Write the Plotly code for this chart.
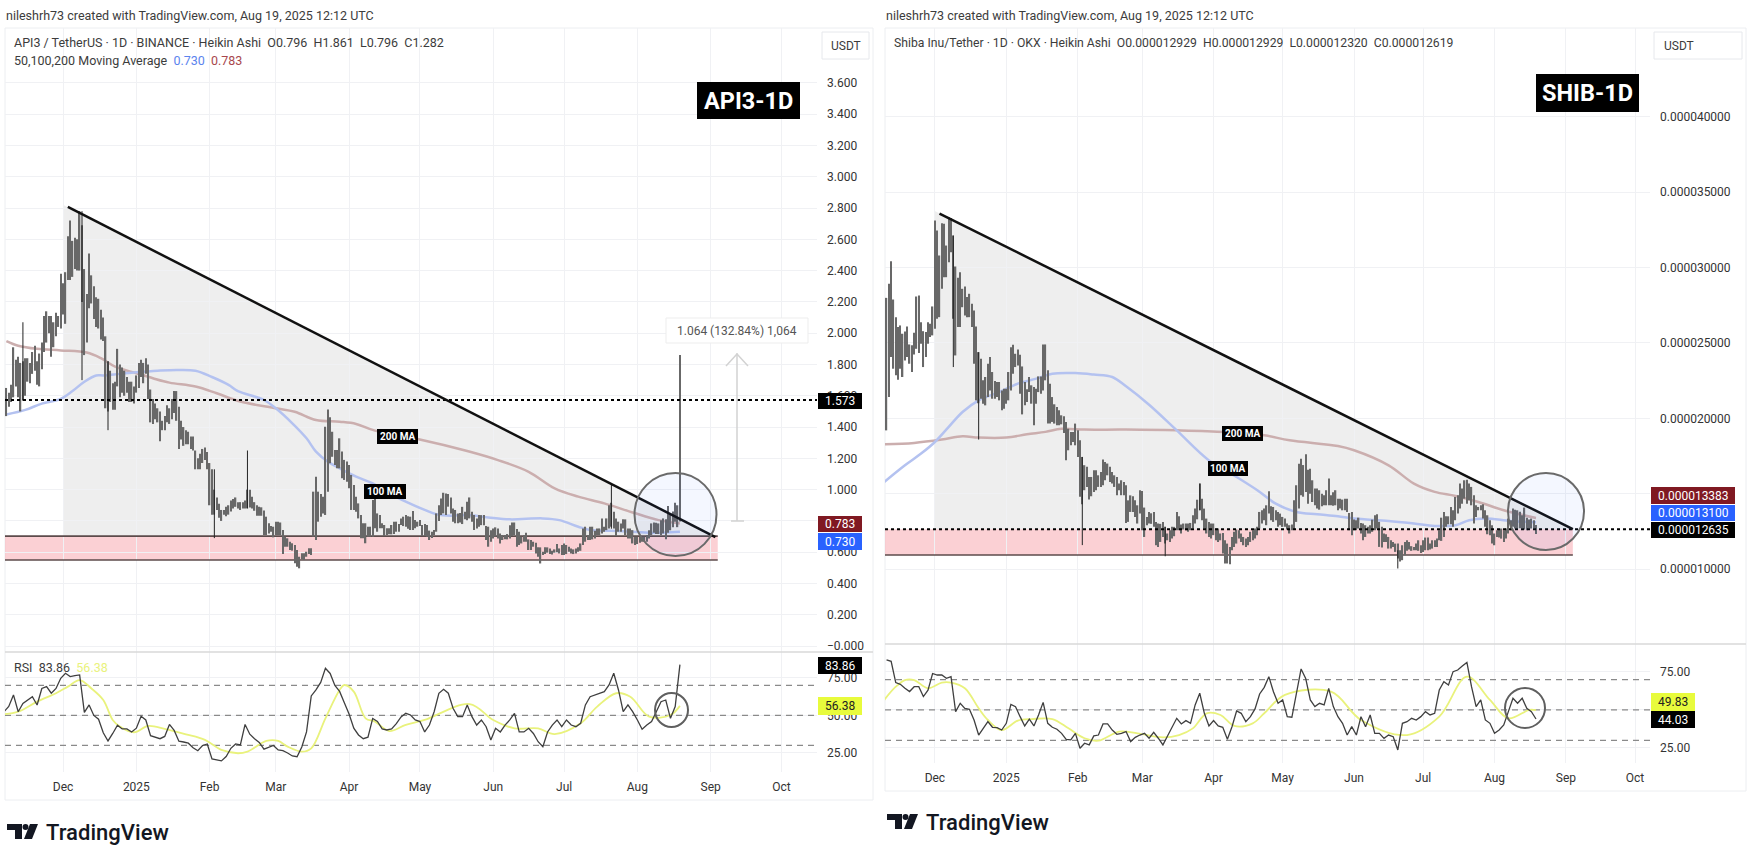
import numpy as np
import pandas as pd
import plotly.graph_objects as go

W, H = 1750, 853

# --- 1. Values ---
month_ticks = ['2024-12-01', '2025-01-01', '2025-02-01', '2025-03-01', '2025-04-01', '2025-05-01',
               '2025-06-01', '2025-07-01', '2025-08-01', '2025-09-01', '2025-10-01']
month_labels = ['Dec', '2025', 'Feb', 'Mar', 'Apr', 'May', 'Jun', 'Jul', 'Aug', 'Sep', 'Oct']
last_day = '2025-08-19'

# API3 daily bars
api3_high = [1.65,1.62,1.67,1.91,1.83,1.85,1.81,1.82,1.84,1.84,
             1.81,1.88,1.92,1.82,1.87,1.94,2.11,2.14,2.11,2.11,
             2.07,2.13,2.11,2.38,2.32,2.39,2.62,2.72,2.59,2.61,
             2.60,2.78,2.69,2.41,2.25,2.51,2.37,2.30,2.23,2.22,
             2.15,2.10,1.98,1.82,1.76,1.68,1.69,1.90,1.80,1.78,
             1.76,1.72,1.69,1.69,1.66,1.73,1.81,1.83,1.81,1.84,
             1.80,1.64,1.58,1.55,1.52,1.50,1.44,1.47,1.54,1.52,
             1.58,1.63,1.63,1.53,1.44,1.40,1.38,1.37,1.34,1.34,
             1.25,1.20,1.23,1.26,1.27,1.24,1.17,1.13,1.00,0.95,
             0.91,0.87,0.87,0.89,0.90,0.93,0.94,0.95,0.92,0.92,
             0.92,0.93,1.00,1.00,0.955,0.92,0.90,0.89,0.887,0.866,
             0.827,0.785,0.767,0.763,0.795,0.795,0.79,0.742,0.70,0.689,
             0.667,0.657,0.646,0.614,0.571,0.593,0.593,0.603,0.625,0.625,
             0.987,1.083,0.987,0.972,0.955,1.402,1.513,1.462,1.37,1.253,
             1.253,1.328,1.243,1.19,1.179,1.157,1.094,1.03,0.955,0.912,
             0.838,0.785,0.785,0.763,0.763,0.934,0.944,0.848,0.838,0.785,
             0.774,0.753,0.753,0.774,0.795,0.795,0.78,0.816,0.827,0.838,
             0.83,0.827,0.863,0.806,0.795,0.806,0.774,0.78,0.774,0.738,
             0.73,0.742,0.848,0.90,0.944,0.98,0.976,0.972,0.95,0.88,
             0.87,0.848,0.85,0.89,
             0.859,0.923,0.95,0.859,0.837,0.816,0.837,0.837,0.837,0.767,
             0.763,0.741,0.752,0.759,0.752,0.72,0.71,0.71,0.716,0.773,
             0.79,0.79,0.748,0.731,0.699,0.71,0.724,0.682,0.678,0.667,
             0.66,0.631,0.631,0.603,0.631,0.631,0.624,0.609,0.618,0.652,
             0.624,0.646,0.656,0.646,0.635,0.624,0.618,0.624,0.631,0.656,
             0.752,0.763,0.71,0.763,0.763,0.737,0.752,0.752,0.816,0.763,
             0.816,0.90,0.916,0.859,0.816,0.795,0.784,0.81,0.81,0.752,
             0.752,0.741,0.699,0.699,0.699,0.699,0.699,0.71,0.741,0.784,
             0.79,0.788,0.784,0.805,0.816,0.81,0.895,0.85,0.86,0.916,0.90,1.861]
api3_low = [1.47,1.53,1.56,1.59,1.66,1.59,1.50,1.57,1.60,1.69,
            1.68,1.74,1.76,1.67,1.66,1.77,1.88,1.94,2.00,1.85,
            1.91,1.98,2.04,2.03,2.12,2.06,2.34,2.34,2.36,2.41,
            2.40,2.40,2.20,1.86,1.94,2.16,2.19,2.09,2.04,2.03,
            1.96,1.95,1.52,1.50,1.56,1.51,1.51,1.66,1.59,1.62,
            1.60,1.62,1.56,1.56,1.55,1.62,1.65,1.72,1.68,1.74,
            1.58,1.43,1.42,1.45,1.43,1.31,1.38,1.38,1.43,1.42,
            1.45,1.49,1.44,1.26,1.32,1.28,1.29,1.29,1.26,1.25,
            1.13,1.13,1.13,1.17,1.19,1.13,0.90,0.84,0.84,0.87,
            0.82,0.80,0.84,0.83,0.84,0.86,0.88,0.89,0.88,0.87,
            0.88,0.88,0.88,0.885,0.88,0.865,0.833,0.833,0.833,0.71,
            0.71,0.72,0.731,0.695,0.71,0.71,0.71,0.588,0.635,0.635,
            0.614,0.61,0.529,0.507,0.497,0.554,0.55,0.571,0.588,0.582,
            0.699,0.678,0.795,0.827,0.848,0.838,0.987,1.168,1.21,1.157,
            1.136,1.136,1.072,1.062,1.051,1.008,0.87,0.87,0.859,0.816,
            0.689,0.689,0.657,0.699,0.699,0.699,0.753,0.731,0.753,0.753,
            0.704,0.71,0.714,0.714,0.716,0.731,0.731,0.774,0.767,0.763,
            0.75,0.742,0.742,0.753,0.763,0.767,0.704,0.704,0.699,0.678,
            0.69,0.71,0.731,0.80,0.838,0.848,0.838,0.891,0.848,0.795,
            0.785,0.785,0.79,0.78,
            0.81,0.805,0.816,0.795,0.742,0.752,0.763,0.773,0.773,0.678,
            0.635,0.667,0.688,0.699,0.688,0.656,0.678,0.682,0.682,0.688,
            0.703,0.71,0.635,0.646,0.656,0.667,0.667,0.614,0.614,0.635,
            0.592,0.571,0.528,0.582,0.588,0.597,0.588,0.586,0.597,0.599,
            0.592,0.582,0.582,0.588,0.603,0.592,0.588,0.592,0.603,0.609,
            0.646,0.667,0.678,0.678,0.682,0.688,0.71,0.71,0.72,0.731,
            0.741,0.752,0.763,0.752,0.703,0.731,0.731,0.752,0.71,0.688,
            0.688,0.656,0.646,0.652,0.66,0.667,0.667,0.667,0.688,0.71,
            0.724,0.716,0.716,0.71,0.72,0.682,0.724,0.74,0.76,0.795,0.76,0.796]
# long thin wicks
api3_wick_dates = ['2024-11-14', '2024-12-09', '2024-12-20', '2025-02-03', '2025-02-17', '2025-07-21']
api3_wick_low = [1.57, 1.70, 1.38, 0.69, 0.88, 0.75]
api3_wick_high = [2.07, 2.78, 1.82, 1.13, 1.25, 1.04]

api3_ma_dates = ['2024-11-07','2024-11-15','2024-11-22','2024-11-30','2024-12-05','2024-12-10','2024-12-15',
                 '2024-12-18','2024-12-25','2025-01-01','2025-01-10','2025-01-18','2025-01-26','2025-02-02',
                 '2025-02-09','2025-02-13','2025-02-24','2025-03-01','2025-03-08','2025-03-14','2025-03-18',
                 '2025-03-23','2025-03-28','2025-04-04','2025-04-11','2025-04-18','2025-04-25','2025-05-03',
                 '2025-05-08','2025-05-14','2025-05-21','2025-05-30','2025-06-08','2025-06-22','2025-06-29',
                 '2025-07-07','2025-07-12','2025-07-21','2025-07-30','2025-08-08','2025-08-15','2025-08-19']
api3_ma100 = [1.48,1.51,1.55,1.58,1.63,1.69,1.73,1.73,1.74,1.75,1.76,1.765,1.76,1.72,1.67,1.63,1.573,1.52,
              1.424,1.328,1.243,1.179,1.136,1.083,1.04,0.976,0.923,0.87,0.842,0.833,0.838,0.822,0.81,0.816,
              0.805,0.763,0.742,0.737,0.731,0.724,0.727,0.730]
api3_ma200_dates = ['2024-11-07','2024-11-12','2024-11-20','2024-11-30','2024-12-11','2024-12-17','2024-12-23',
                    '2025-01-01','2025-01-08','2025-01-15','2025-01-26','2025-02-04','2025-02-14','2025-03-01',
                    '2025-03-09','2025-03-18','2025-03-28','2025-04-04','2025-04-12','2025-04-30','2025-05-21',
                    '2025-06-03','2025-06-16','2025-06-27','2025-07-07','2025-07-18','2025-07-30','2025-08-10',
                    '2025-08-19']
api3_ma200 = [1.95,1.92,1.90,1.89,1.876,1.84,1.786,1.744,1.712,1.684,1.659,1.616,1.563,1.52,1.498,1.445,1.434,
              1.42,1.377,1.324,1.247,1.189,1.114,1.008,0.955,0.912,0.854,0.805,0.783]

# API3 RSI, every second day, and its moving average
api3_rsi = [52.5,56,63.7,52.5,58,60.3,62.5,57,68,69.2,64.8,68,74.8,78.1,75.9,76.6,77,52,57,50,47.5,38.5,33,38,
            43.5,41,41,39,41.5,49.5,47,36.5,35.6,34.5,36,44,40,32.8,32.3,31.5,28.5,26.5,30,31,21,20.3,19.7,22.6,
            28.1,31,30.3,44,37.5,34.5,32,27.5,29,30,27,26.5,25,23,22.5,29,39,63,67,72,81.4,78,70,66,58.5,51,41.5,
            37,34.5,35.5,48,46,41,40.3,41,44.5,49,
            51.4,50.3,47,45.9,39,43.6,52.5,64.8,67.4,64.8,54.8,49.2,49.2,57,49.2,43.6,47,42.5,33.6,41.4,39,43.6,
            47,51.4,39,39,41.4,38,32.5,29.2,39,43.6,47,42.5,47,43.6,42.5,44.8,57,62.5,63.6,64.8,65.9,70.3,78.1,
            67,52.5,57,52.5,47,40.8,43.6,45.9,52.5,59.2,60.3,48.1,55.9,83.86]
api3_rsi_ma_dates = ['2024-11-06','2024-11-12','2024-11-20','2024-11-28','2024-12-03','2024-12-08','2024-12-13',
                     '2024-12-18','2024-12-22','2024-12-25','2024-12-31','2025-01-06','2025-01-13','2025-01-22',
                     '2025-01-30','2025-02-06','2025-02-13','2025-02-17','2025-02-25','2025-03-02','2025-03-06',
                     '2025-03-12','2025-03-16','2025-03-22','2025-03-28','2025-03-30','2025-04-03','2025-04-08',
                     '2025-04-12','2025-04-18','2025-04-25','2025-05-03','2025-05-22','2025-06-01','2025-06-10',
                     '2025-06-20','2025-06-27','2025-07-08','2025-07-15','2025-07-23','2025-07-29','2025-08-06',
                     '2025-08-15','2025-08-19']
api3_rsi_ma = [50.8,52.5,59.2,64.8,69.2,73.6,68,60.3,47,42.6,38.8,43,41,37.4,33.7,27,24.8,25.9,33,33,29.2,25.9,
               28.1,48.1,67,70.3,65.9,48.1,45.9,39.6,43.7,47,57.6,47,41.4,41.4,37.6,44.8,55.9,64.8,62.5,49.2,50.3,56.38]

api3_trend_x = ['2024-12-03', '2025-09-03']
api3_trend_y = [2.807, 0.697]
api3_zone_x = ['2024-11-06', '2025-09-04']
api3_zone_y = [0.703, 0.55]
api3_level = 1.573
api3_yticks = [3.6, 3.4, 3.2, 3.0, 2.8, 2.6, 2.4, 2.2, 2.0, 1.8, 1.6, 1.4, 1.2, 1.0, 0.8, 0.6, 0.4, 0.2, 0.0]
api3_ylabels = ['3.600', '3.400', '3.200', '3.000', '2.800', '2.600', '2.400', '2.200', '2.000', '1.800', '1.600',
                '1.400', '1.200', '1.000', '', '0.600', '0.400', '0.200', '\u22120.000']

# SHIB daily bars, in millionths of a dollar
shib_high = [27.99,28.92,30.42,27.88,26.71,26.05,26.16,25.61,25.76,26.09,
             24.9,24.84,25.67,28.08,28.15,26.38,25.78,25.72,26.38,26.27,
             27.42,33.12,32.45,30.8,32.94,32.9,31.46,33.34,33.29,32.12,
             30.07,29.32,29.69,28.59,28.74,28.04,28.26,27.6,27.15,26.09,
             24.39,23.95,22.52,22.74,23.62,24.06,23.07,22.47,22.41,22.41,
             21.85,21.96,21.96,23.07,24.72,24.88,24.28,24.57,24.22,23.44,
             22.41,21.92,22.74,22.19,22.07,21.96,22.78,22.78,24.9,24.9,
             23.18,22.3,21.41,20.93,20.75,20.53,20.2,20.13,19.76,19.31,
             19.09,19.09,19.65,19.2,18.54,17.44,16.89,16.78,16.11,16.11,
             16.56,16.56,16.22,16.44,17.26,17.11,17.0,16.78,16.44,16.22,
             16.11,15.67,15.89,
             15.78,15.56,14.56,14.89,14.83,14.56,14.23,15.23,15.18,14.08,
             13.46,13.79,13.7,13.79,13.13,13.02,13.0,13.13,12.8,12.36,
             12.58,12.8,12.8,13.79,13.5,12.95,13.02,13.02,13.02,13.06,
             13.57,14.01,14.6,15.67,14.67,14.01,13.35,13.13,13.02,13.02,
             12.69,12.69,12.36,12.4,11.91,11.69,11.47,12.13,12.47,12.62,
             12.58,12.36,12.13,12.02,12.13,12.47,12.58,12.69,12.8,13.79,
             13.9,14.01,14.23,15.16,14.17,14.12,13.9,13.79,13.68,13.46,
             13.35,13.02,12.91,12.95,14.56,15.56,16.99,17.32,16.9,17.61,
             16.59,16.66,15.89,15.34,15.34,15.23,15.0,14.89,15.23,16.0,
             14.89,15.1,
             15.23,14.67,14.67,14.61,14.67,14.67,13.72,13.79,13.28,13.24,
             13.41,13.06,13.02,12.91,12.8,12.91,13.28,13.57,13.64,13.13,
             12.8,12.36,12.31,12.13,11.91,11.8,11.69,11.69,11.25,11.58,
             11.8,11.91,11.8,11.52,11.47,11.69,11.91,11.58,11.91,12.09,
             12.09,11.69,11.91,11.91,12.02,12.58,13.41,13.79,13.5,13.5,
             14.12,13.9,14.78,14.89,15.67,15.34,15.89,15.93,15.67,15.45,
             14.89,14.23,14.12,14.23,14.3,13.9,13.57,13.24,12.91,12.36,
             12.58,12.6,12.69,12.58,12.69,13.35,13.24,14.01,13.94,13.9,13.8,
             13.57,14.08,13.41,13.28,13.35,13.24,12.93]
shib_low = [19.2,21.41,24.06,23.29,22.85,22.56,23.29,22.74,23.84,24.06,
            23.62,23.07,24.24,24.61,24.33,24.95,23.4,24.06,24.95,25.39,
            25.5,25.94,26.6,26.71,28.59,29.36,29.36,30.36,31.02,26.6,
            24.17,26.05,26.05,27.37,26.82,26.71,26.71,26.05,23.62,21.19,
            21.0,21.3,20.97,20.86,21.41,21.85,21.3,21.3,21.41,21.19,
            20.53,20.64,20.97,21.19,21.85,22.96,23.4,23.51,21.63,20.26,
            20.86,21.08,21.74,20.97,19.54,20.97,21.74,21.63,21.85,22.52,
            19.65,19.65,19.76,19.65,19.54,19.54,19.6,19.03,17.22,17.88,
            18.21,18.43,18.21,17.44,14.79,14.3,15.23,15.45,14.61,14.83,
            15.12,15.23,15.45,15.45,15.56,15.89,16.22,15.78,15.67,15.45,
            14.9,15.23,14.9,
            14.89,13.06,13.13,13.79,13.79,13.46,13.02,13.68,12.58,12.13,
            12.91,13.02,13.0,12.8,11.58,11.47,11.8,12.13,11.7,11.91,
            11.8,12.02,12.18,12.58,12.58,12.36,12.62,12.58,12.47,12.58,
            12.69,13.02,13.3,13.9,13.24,12.69,12.36,12.13,12.02,12.25,
            11.91,11.8,11.91,11.03,10.37,10.37,10.32,11.25,11.47,11.69,
            12.02,11.8,11.58,11.47,11.58,11.8,11.91,12.02,12.25,12.69,
            13.02,13.24,12.91,13.68,13.24,13.13,13.24,12.8,12.91,12.8,
            12.8,12.62,12.36,12.58,12.64,13.13,14.01,14.89,14.8,15.12,
            14.34,15.0,14.45,14.23,14.01,13.94,14.17,14.23,14.23,14.23,
            14.23,14.2,
            14.23,13.9,14.01,13.9,13.9,13.79,12.58,12.24,12.58,12.58,
            12.69,12.36,11.91,12.13,12.36,12.36,12.47,12.58,12.69,11.47,
            11.43,11.8,11.8,11.36,11.36,11.47,11.14,10.7,10.5,10.59,
            10.92,11.21,11.3,11.21,11.25,11.25,11.21,11.07,11.14,11.25,
            11.25,11.3,11.36,11.47,11.47,11.91,11.87,12.13,12.8,12.97,
            12.97,12.8,13.24,13.68,14.01,14.34,14.67,14.34,14.56,14.23,
            13.02,13.46,13.9,13.9,13.35,12.8,12.31,12.24,11.69,11.58,
            12.13,12.1,12.02,11.8,12.02,12.36,12.58,12.8,12.69,12.69,12.7,
            12.69,12.62,12.58,12.69,12.69,12.69,12.32]
shib_wick_dates = ['2024-12-09', '2024-12-20', '2025-02-03', '2025-03-11', '2025-03-26', '2025-06-20']
shib_wick_low = [23.4, 18.59, 11.59, 10.85, 13.9, 10.04]
shib_wick_high = [32.12, 24.39, 17.44, 12.8, 15.67, 11.25]

shib_ma100_dates = ['2024-11-09','2024-11-18','2024-11-25','2024-12-01','2024-12-07','2024-12-13','2024-12-20',
                    '2024-12-29','2025-01-06','2025-01-14','2025-01-21','2025-01-31','2025-02-08','2025-02-16',
                    '2025-02-22','2025-03-04','2025-03-16','2025-03-30','2025-04-11','2025-04-20','2025-04-28',
                    '2025-05-07','2025-05-16','2025-05-25','2025-06-01','2025-06-16','2025-06-27','2025-07-06',
                    '2025-07-15','2025-07-21','2025-07-28','2025-08-08','2025-08-19']
shib_ma100 = [15.78,16.89,17.66,18.43,19.43,20.42,21.19,21.74,22.3,22.63,22.96,23.0,22.9,22.74,22.12,20.9,19.2,
              17.21,16.11,15.23,14.34,13.79,13.64,13.5,13.35,13.19,13.02,12.86,12.91,13.24,13.35,13.19,13.10]
shib_ma200_dates = ['2024-11-09','2024-11-22','2024-12-04','2024-12-13','2024-12-20','2025-01-01','2025-01-10',
                    '2025-01-18','2025-01-25','2025-02-04','2025-02-22','2025-03-16','2025-04-06','2025-04-23',
                    '2025-05-04','2025-05-25','2025-06-01','2025-06-16','2025-06-27','2025-07-06','2025-07-15',
                    '2025-07-25','2025-08-05','2025-08-19']
shib_ma200 = [18.28,18.37,18.59,18.81,18.72,18.72,18.94,19.1,19.3,19.25,19.25,19.2,19.09,18.87,18.54,18.16,17.88,
              16.88,15.67,15.12,14.85,14.45,13.9,13.383]

shib_rsi = [83,82,68,66.9,64.3,62.1,65.3,65.3,58.8,63,74,73,73,70.8,71.9,48.9,54.4,51,50.4,43.4,33.5,37.9,42.3,
            38.6,38.4,36.8,41.2,53.7,52.2,45.6,39.5,43.9,39.5,46.7,55,41.2,38.6,37.3,34.6,30.7,30.3,34.6,24.8,28.1,
            27,32.9,33.5,40.8,40.8,36.8,34,34.6,35.8,29.2,32,33.5,34.6,31.4,35.3,31.4,27,32.9,38.4,44.5,40.8,43,
            41.2,53.3,61,47.8,39.5,43,39.5,38.6,30.7,39,49.3,47.8,42.3,45.6,50.7,60.5,64.9,71.9,62,54.4,56.6,
            45.6,45.2,60.9,77,70.8,56.6,52.2,54.4,53.3,64.2,52.2,45.6,41.2,33.5,39,33.5,45.6,39,46.7,34.6,34.6,
            31.3,33.5,32.4,23.7,41.2,42.3,44.5,43.4,45.6,48.9,46.7,47.8,63.1,68.6,66.4,75.2,76.3,78.9,81.3,65.3,
            52.2,56.6,43.4,41.2,34.6,36.8,40.1,48.9,57.7,54.4,57.7,51.1,48.9,44.03]
shib_rsi_ma_dates = ['2024-11-09','2024-11-14','2024-11-18','2024-11-22','2024-11-28','2024-12-04','2024-12-08',
                     '2024-12-14','2024-12-20','2024-12-24','2024-12-30','2025-01-06','2025-01-12','2025-01-21',
                     '2025-01-28','2025-02-04','2025-02-10','2025-02-19','2025-02-27','2025-03-10','2025-03-17',
                     '2025-03-23','2025-03-29','2025-04-04','2025-04-10','2025-04-18','2025-04-23','2025-05-02',
                     '2025-05-22','2025-06-04','2025-06-24','2025-07-08','2025-07-20','2025-07-30','2025-08-07',
                     '2025-08-16','2025-08-19']
shib_rsi_ma = [56.6,65.3,69.7,69.7,64.3,68,68,64.3,51.1,43.4,36.8,43,44,44,37.9,31.4,29.8,35.8,34.6,32,33.5,37.9,
               47.8,46.7,39.5,41.2,47.8,59.9,62,43.4,33.5,45.6,71.9,56.6,44.5,50,49.83]

shib_trend_x = ['2024-12-03', '2025-09-04']
shib_trend_y = [33.58, 12.65]
shib_zone_x = ['2024-11-09', '2025-09-04']
shib_zone_y = [12.635, 10.93]
shib_level = 12.635
shib_yticks = [40, 35, 30, 25, 20, 15, 10]
shib_ylabels = ['0.000040000', '0.000035000', '0.000030000', '0.000025000', '0.000020000', '', '0.000010000']

rsi_ticks = [75, 50, 25]
rsi_labels = ['75.00', '50.00', '25.00']
rsi_guides = [70, 50, 30]

FONT = 'Roboto'
INK = '#3c3c3c'
BLUE_MA = '#b4c2f0'
RED_MA = '#cbaeae'
YELLOW = '#e9f27c'
DAY_MS = 86400000


def px(x):
    return x / W


def py(y):
    return 1 - y / H


fig = go.Figure()
shapes = []
notes = []


def rect(x0, y0, x1, y1, fill='rgba(0,0,0,0)', line='rgba(0,0,0,0)', width=1, layer='above', kind='rect'):
    shapes.append(dict(type=kind, xref='paper', yref='paper', x0=px(x0), x1=px(x1), y0=py(y0), y1=py(y1),
                       fillcolor=fill, line=dict(color=line, width=width), layer=layer))


def seg(x0, y0, x1, y1, color, width=1.5):
    shapes.append(dict(type='line', xref='paper', yref='paper', x0=px(x0), x1=px(x1), y0=py(y0), y1=py(y1),
                       line=dict(color=color, width=width)))


def text(x, y, s, size=12, color=INK, anchor='left', bold=False, family=FONT):
    notes.append(dict(xref='paper', yref='paper', x=px(x), y=py(y), text=f'<b>{s}</b>' if bold else s,
                      showarrow=False, xanchor=anchor, yanchor='middle', borderpad=0,
                      font=dict(size=size, color=color, family=family)))


def tag(x0, y0, x1, y1, s, fill, color='white', size=12, bold=False, family=FONT):
    rect(x0, y0, x1, y1, fill=fill)
    text((x0 + x1) / 2, (y0 + y1) / 2, s, size=size, color=color, anchor='center', bold=bold, family=family)


def logo(x, y):
    # TradingView mark and word
    shapes.append(dict(type='path', xref='paper', yref='paper', fillcolor='#131722', line=dict(width=0),
                       path=' '.join(f'{c}{px(a):.5f},{py(b):.5f}' for c, a, b in [
                           ('M', x, y), ('L', x + 15, y), ('L', x + 15, y + 15), ('L', x + 8, y + 15),
                           ('L', x + 8, y + 6), ('L', x, y + 6)]) + ' Z'))
    rect(x + 15.5, y, x + 21.5, y + 6, fill='#131722', kind='circle')
    shapes.append(dict(type='path', xref='paper', yref='paper', fillcolor='#131722', line=dict(width=0),
                       path=' '.join(f'{c}{px(a):.5f},{py(b):.5f}' for c, a, b in [
                           ('M', x + 23, y), ('L', x + 31, y), ('L', x + 25, y + 15), ('L', x + 17, y + 15)]) + ' Z'))
    text(x + 38, y + 8, 'TradingView', size=22, color='#131722', family='Roboto Medium, Roboto')


def chart(n, px_box, x_range, y_range, rsi_range, dates, high, low, wick_dates, wick_low, wick_high,
          ma100_x, ma100, ma200_x, ma200, rsi, rsi_ma_x, rsi_ma, trend_x, trend_y, zone_x, zone_y, level,
          yticks, ylabels, scale):
    left, right, top, split, bottom = px_box
    xp, yp = ('x', 'y') if n == 1 else (f'x{n}', f'y{n}')
    xr, yr = f'x{n + 1}', f'y{n + 1}'
    high = np.array(high) * scale
    low = np.array(low) * scale

    # shaded triangle under the falling trendline and the support zone, behind the bars
    shapes.append(dict(type='path', xref=xp, yref=yp, layer='below', fillcolor='rgba(0,0,0,0.065)', line=dict(width=0),
                       path=f'M 2024-12-01,{zone_y[0] * scale} L 2024-12-01,{trend_y[0] * scale * 1.005} '
                            f'L {trend_x[1]},{trend_y[1] * scale} Z'))
    shapes.append(dict(type='rect', xref=xp, yref=yp, layer='below', fillcolor='rgba(248,170,176,0.55)',
                       line=dict(width=0), x0=zone_x[0], x1=zone_x[1], y0=zone_y[1] * scale, y1=zone_y[0] * scale))
    for v in zone_y[(0 if n == 1 else 1):]:
        fig.add_trace(go.Scatter(x=zone_x, y=[v * scale, v * scale], mode='lines', zorder=0,
                                 line=dict(color='#5c4b4b', width=1.6), xaxis=xp, yaxis=yp))

    fig.add_trace(go.Scatter(x=ma200_x, y=np.array(ma200) * scale, mode='lines', zorder=0,
                             line=dict(color=RED_MA, width=2.5, shape='spline'), xaxis=xp, yaxis=yp))
    fig.add_trace(go.Scatter(x=ma100_x, y=np.array(ma100) * scale, mode='lines', zorder=0,
                             line=dict(color=BLUE_MA, width=2.5, shape='spline'), xaxis=xp, yaxis=yp))

    fig.add_trace(go.Bar(x=dates, base=low, y=high - low, width=0.58 * DAY_MS, marker=dict(color='#686868', line=dict(width=0)),
                         zorder=1, xaxis=xp, yaxis=yp))
    wx, wy = [], []
    for d, a, b in zip(wick_dates, wick_low, wick_high):
        wx += [d, d, None]
        wy += [a * scale, b * scale, None]
    fig.add_trace(go.Scatter(x=wx, y=wy, mode='lines', line=dict(color='#222222', width=1), zorder=2, xaxis=xp, yaxis=yp))

    fig.add_trace(go.Scatter(x=[x_range[0], x_range[1]], y=[level * scale, level * scale], mode='lines', zorder=2,
                             line=dict(color='black', width=2, dash='dot'), xaxis=xp, yaxis=yp))
    fig.add_trace(go.Scatter(x=trend_x, y=np.array(trend_y) * scale, mode='lines', zorder=2,
                             line=dict(color='#111111', width=2.5), xaxis=xp, yaxis=yp))

    # RSI pane
    rsi_x = pd.date_range(end=last_day, periods=len(rsi), freq='2D')
    rsi = np.array(rsi, dtype=float)
    fig.add_trace(go.Scatter(x=rsi_x, y=[70] * len(rsi), mode='none', xaxis=xr, yaxis=yr))
    fig.add_trace(go.Scatter(x=rsi_x, y=np.maximum(rsi, 70), mode='none', fill='tonexty',
                             fillcolor='rgba(76,175,80,0.25)', xaxis=xr, yaxis=yr))
    fig.add_trace(go.Scatter(x=rsi_x, y=[30] * len(rsi), mode='none', xaxis=xr, yaxis=yr))
    fig.add_trace(go.Scatter(x=rsi_x, y=np.minimum(rsi, 30), mode='none', fill='tonexty',
                             fillcolor='rgba(242,54,69,0.25)', xaxis=xr, yaxis=yr))
    for g in rsi_guides:
        fig.add_trace(go.Scatter(x=x_range, y=[g, g], mode='lines',
                                 line=dict(color='#8a8a8a', width=1.2, dash='6px,5px'), xaxis=xr, yaxis=yr))
    fig.add_trace(go.Scatter(x=rsi_ma_x, y=rsi_ma, mode='lines',
                             line=dict(color=YELLOW, width=1.8, shape='spline'), xaxis=xr, yaxis=yr))
    fig.add_trace(go.Scatter(x=rsi_x, y=rsi, mode='lines', line=dict(color='#3f3f3f', width=1.3), xaxis=xr, yaxis=yr))

    grid = '#f0f1f4'
    ax_font = dict(size=12, color='#333333', family=FONT)
    xcommon = dict(range=x_range, type='date', tickvals=month_ticks, ticktext=month_labels, gridcolor=grid,
                   showline=False, zeroline=False, tickfont=ax_font,
                   domain=[px(left), px(right)], ticks='', ticklabelstandoff=6)
    ycommon = dict(side='right', gridcolor=grid, showline=False, zeroline=False, tickfont=ax_font, tickmode='array',
                   ticks='', ticklabelstandoff=9)
    suffix = lambda k: '' if k == 1 else str(k)
    fig.update_layout({
        f'xaxis{suffix(n)}': dict(xcommon, anchor=yp, showticklabels=False),
        f'xaxis{suffix(n + 1)}': dict(xcommon, anchor=yr),
        f'yaxis{suffix(n)}': dict(ycommon, anchor=xp, range=y_range, tickvals=np.array(yticks) * scale, ticktext=ylabels,
                                  domain=[py(split), py(top)]),
        f'yaxis{suffix(n + 1)}': dict(ycommon, anchor=xr, range=rsi_range, tickvals=rsi_ticks, ticktext=rsi_labels,
                                      domain=[py(bottom), py(split)]),
    })


api3_dates = pd.date_range(end=last_day, periods=len(api3_high))
shib_dates = pd.date_range(end=last_day, periods=len(shib_high))

chart(1, (5, 817, 28, 652, 772), ['2024-11-06 10:00', '2025-10-16'], [-0.038, 3.951], [12.3, 92.3],
      api3_dates, api3_high, api3_low, api3_wick_dates, api3_wick_low, api3_wick_high,
      api3_ma_dates, api3_ma100, api3_ma200_dates, api3_ma200, api3_rsi, api3_rsi_ma_dates, api3_rsi_ma,
      api3_trend_x, api3_trend_y, api3_zone_x, api3_zone_y, api3_level, api3_yticks, api3_ylabels, 1)
chart(3, (885, 1650, 28, 644, 763), ['2024-11-09 08:00', '2025-10-07 12:00'], [5.03e-6, 45.89e-6], [15.1, 93.4],
      shib_dates, shib_high, shib_low, shib_wick_dates, shib_wick_low, shib_wick_high,
      shib_ma100_dates, shib_ma100, shib_ma200_dates, shib_ma200, shib_rsi, shib_rsi_ma_dates, shib_rsi_ma,
      shib_trend_x, shib_trend_y, shib_zone_x, shib_zone_y, shib_level, shib_yticks, shib_ylabels, 1e-6)

# --- 2. Frames, tags and drawings ---
FRAME = '#eceef1'
rect(5, 28, 873, 800, line=FRAME, layer='below')
rect(885, 28, 1746, 791, line=FRAME, layer='below')
seg(5, 652, 873, 652, '#d9d9d9', 1.5)
seg(885, 644, 1746, 644, '#d9d9d9', 1.5)

text(5, 15.5, 'nileshrh73 created with TradingView.com, Aug 19, 2025 12:12 UTC', size=12.5)
text(885, 15.5, 'nileshrh73 created with TradingView.com, Aug 19, 2025 12:12 UTC', size=12.5)

gap = '\u00a0\u00a0'
text(13, 43, f'API3 / TetherUS \u00b7 1D \u00b7 BINANCE \u00b7 Heikin Ashi{gap}O0.796{gap}H1.861{gap}L0.796{gap}C1.282', size=12.5)
text(13, 61, f'50,100,200 Moving Average{gap}<span style="color:#5b84ee">0.730</span>{gap}<span style="color:#a8474d">0.783</span>', size=12.5)
text(13, 667, f'RSI{gap}83.86{gap}<span style="color:{YELLOW}">56.38</span>', size=12.5)
text(893, 43, f'Shiba Inu/Tether \u00b7 1D \u00b7 OKX \u00b7 Heikin Ashi{gap}O0.000012929{gap}H0.000012929{gap}L0.000012320{gap}C0.000012619', size=12.2)

# USDT buttons
rect(822, 32, 869, 59, fill='white', line='#e6e8ec')
text(845.5, 46, 'USDT', size=12, anchor='center')
rect(1654, 32, 1742, 59, fill='white', line='#e6e8ec')
text(1663, 46, 'USDT', size=12)

# circles
rect(634.5, 473, 716.5, 556, fill='rgba(41,98,255,0.05)', line='#6a6a6a', width=2, kind='circle')
rect(655, 693, 688, 727, line='#5f5f5f', width=2, kind='circle')
rect(1508, 473, 1584, 550, fill='rgba(41,98,255,0.05)', line='#6a6a6a', width=2, kind='circle')
rect(1505, 688, 1545, 728, line='#5f5f5f', width=2, kind='circle')

# measure arrow
ARROW = '#d2d2d2'
seg(737, 353, 737, 521, ARROW)
seg(731, 521, 744, 521, ARROW)
seg(726, 366, 737, 354, ARROW)
seg(748, 366, 737, 354, ARROW)
rect(666, 318, 808, 343, fill='white', line='#ededed')
text(737, 330.5, '1.064 (132.84%) 1,064', size=12, anchor='center', color='#555555')

# titles and MA tags
tag(697, 82, 800, 119, 'API3-1D', 'black', size=23.5, bold=True)
tag(1536, 74, 1639, 112, 'SHIB-1D', 'black', size=23.5, bold=True)
tag(377, 429, 418, 444, '200 MA', 'black', size=10, bold=True)
tag(364, 484, 406, 499, '100 MA', 'black', size=10, bold=True)
tag(1222, 426, 1263, 441, '200 MA', 'black', size=10, bold=True)
tag(1208, 461, 1248, 476, '100 MA', 'black', size=10, bold=True)

# axis value tags
tag(818, 393, 862, 409, '1.573', 'black')
tag(818, 516, 862, 532, '0.783', '#801922')
tag(818, 533, 862, 550, '0.730', '#2962ff')
tag(818, 657, 862, 674, '83.86', 'black')
tag(818, 697, 862, 715, '56.38', '#e8fb3c', color='#222222')
tag(1651, 487, 1735, 504, '0.000013383', '#801922')
tag(1651, 505, 1735, 521, '0.000013100', '#2962ff')
tag(1651, 522, 1735, 538, '0.000012635', 'black')
tag(1651, 693, 1695, 711, '49.83', '#e8fb3c', color='#222222')
tag(1651, 711, 1695, 728, '44.03', 'black')

logo(7, 824)
logo(887, 814)

fig.update_layout(width=W, height=H, margin=dict(l=0, r=0, t=0, b=0), paper_bgcolor='white', plot_bgcolor='white',
                  showlegend=False, hovermode=False, shapes=shapes, annotations=notes, barmode='overlay',
                  font=dict(family=FONT, color=INK))

fig.write_html("out.html", config=dict(displayModeBar=False), post_script="document.body.style.margin='0';")
